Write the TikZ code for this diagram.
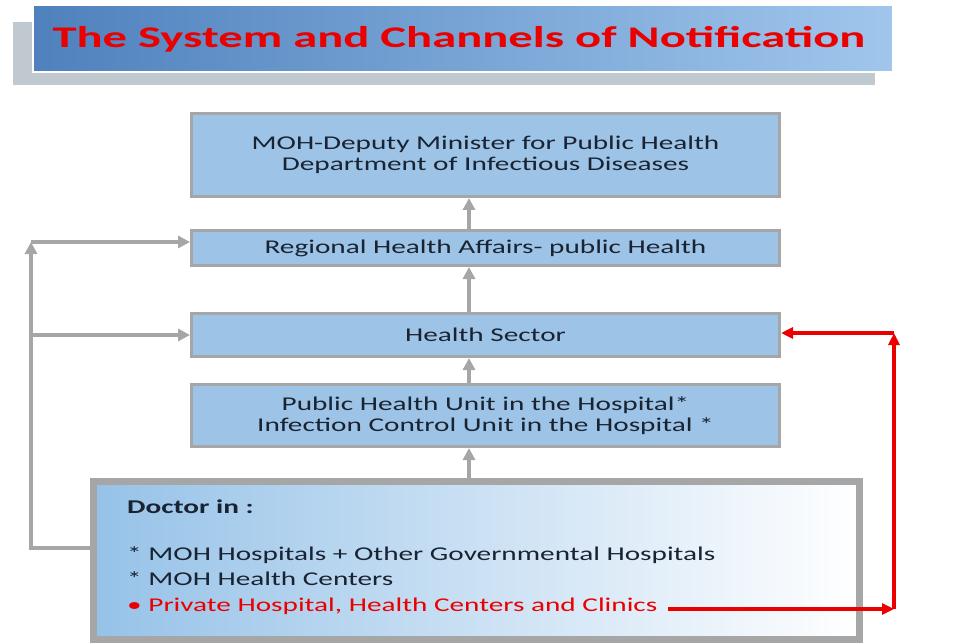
\documentclass[tikz,border=0pt]{standalone}
\usepackage{fontspec}
\setmainfont{Carlito}
\newfontfamily\boxfont[FakeStretch=1.5]{Carlito}
\newfontfamily\titlefont[FakeStretch=1.62]{Carlito}
\usetikzlibrary{calc,arrows.meta}
\definecolor{boxblue}{RGB}{157,195,230}
\definecolor{boxgray}{RGB}{166,166,166}
\definecolor{bannerdark}{RGB}{79,129,189}
\definecolor{bannerlight}{RGB}{160,198,236}
\definecolor{shadowgray}{RGB}{192,200,208}
\definecolor{docblue}{RGB}{150,194,232}
\definecolor{textdark}{RGB}{25,35,50}
\definecolor{alertred}{RGB}{235,0,0}
\tikzset{
  levelbox/.style={draw=boxgray,line width=3pt,fill=boxblue,minimum width=588pt,
    align=center,inner sep=0pt,text=textdark,font=\boxfont\fontsize{19.5}{21}\selectfont},
  docbox/.style={draw=boxgray,line width=7pt,left color=docblue,right color=white,
    minimum width=766pt,minimum height=158pt},
  doctext/.style={anchor=base west,inner sep=0pt,text=textdark,font=\boxfont\fontsize{19.5}{21}\selectfont},
  grayarrow/.style={draw=boxgray,line width=4pt,-{Triangle[length=12pt,width=12pt]}},
  redarrow/.style={draw=alertred,line width=3.5pt,-{Triangle[length=12pt,width=11pt]}}
}

\begin{document}
\begin{tikzpicture}[x=1pt,y=-1pt]
\useasboundingbox (0,0) rectangle (973,644);
%% banner
\fill[shadowgray] (13,22) rectangle (875,85);
\draw[white,line width=2pt,left color=bannerdark,right color=bannerlight] (33,5) rectangle (893,72);
\node[text=alertred,font=\titlefont\bfseries\fontsize{30}{32}\selectfont] (title) at (459,39)
  {The System and Channels of Notification};
%% levels
\node[levelbox,minimum height=83pt] (moh) at (485.5,155)
  {MOH-Deputy Minister for Public Health\\Department of Infectious Diseases};
\node[levelbox,minimum height=35pt] (region) at (485.5,248)
  {Regional Health Affairs- public Health};
\node[levelbox,minimum height=43pt] (sector) at (485.5,335) {Health Sector};
\node[levelbox,minimum height=62pt] (unit) at (485.5,415.5)
  {Public Health Unit in the Hospital*\\Infection Control Unit in the Hospital *};
\node[docbox] (doc) at (476.5,560.5) {};
\node[doctext,font=\boxfont\bfseries\fontsize{19.5}{21}\selectfont] (docin) at (127,513) {Doctor in :};
\node[doctext] (gov) at (127,560) {* MOH Hospitals + Other Governmental Hospitals};
\node[doctext] (centers) at (127,585) {* MOH Health Centers};
\node[doctext,text=alertred] (priv) at (127,611) {\textbullet\ Private Hospital, Health Centers and Clinics};
%% upward chain
\coordinate (spine) at (469,0);
\draw[grayarrow] (doc.north -| spine) -- (unit.south -| spine);
\draw[grayarrow] (unit.north -| spine) -- (sector.south -| spine);
\draw[grayarrow] (sector.north -| spine) -- (region.south -| spine);
\draw[grayarrow] (region.north -| spine) -- (moh.south -| spine);
%% left side
\coordinate (lbot) at (31,548);
\coordinate (ltop) at (31,242);
\draw[grayarrow] (doc.west |- lbot) -- (lbot) -- (ltop);
\draw[grayarrow] (ltop) -- (ltop -| region.west);
\draw[grayarrow] (lbot |- sector.west) -- (sector.west);
%% private channel
\coordinate (rstart) at ($(priv.base east)+(10,-2)$);
\coordinate (rbot) at (894,609);
\coordinate (rtop) at (894,333);
\draw[redarrow] (rstart) -- (rstart -| rbot);
\draw[redarrow] (rbot) -- (rtop);
\draw[redarrow] (rtop) -- (sector.east |- rtop);
\end{tikzpicture}
\end{document}
